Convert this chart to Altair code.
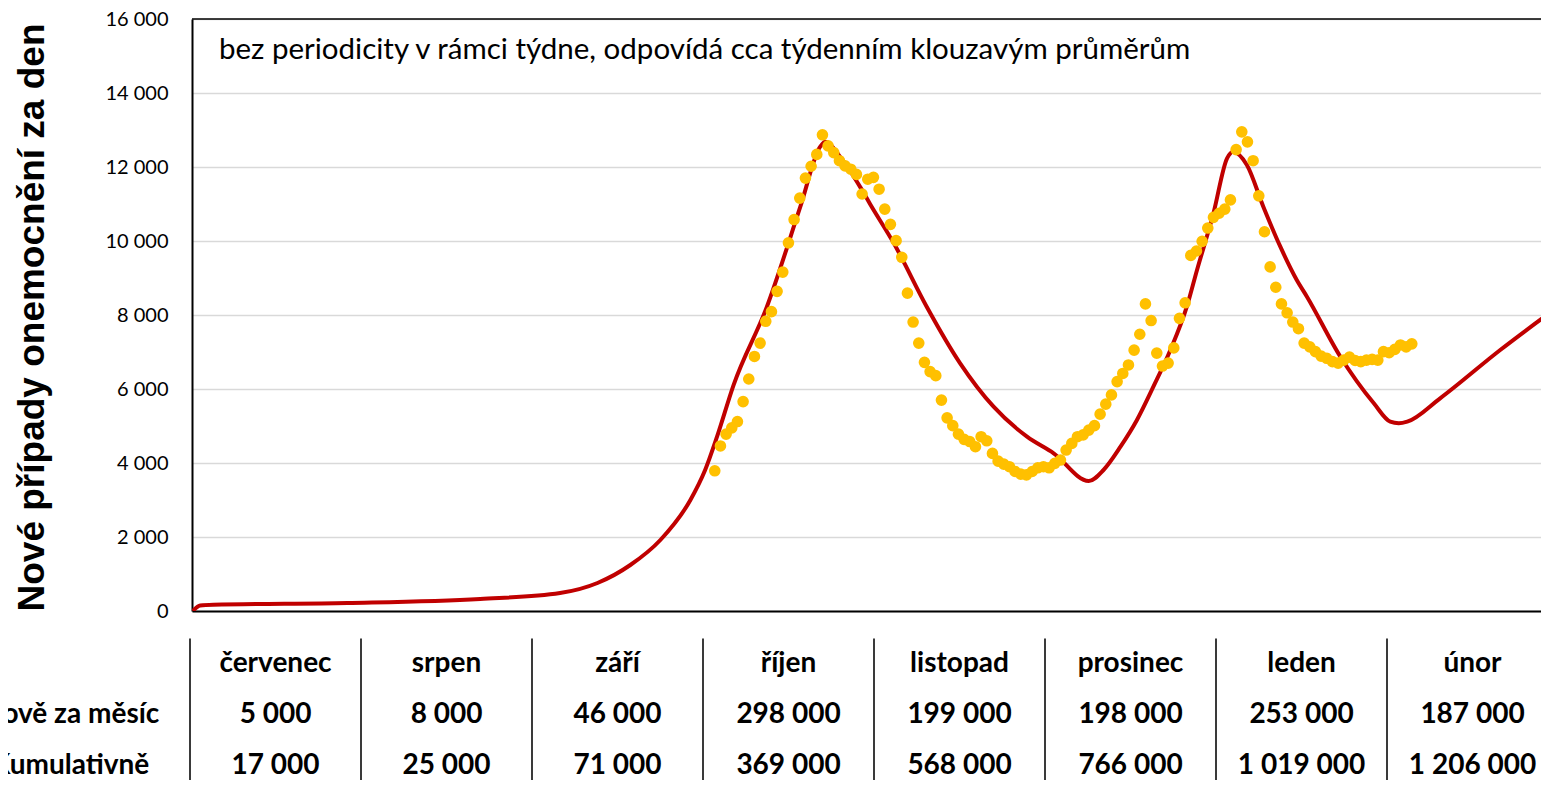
import altair as alt
import pandas as pd

# ---- data ----
# red model curve: day since 1 July, new cases per day
model_day = [-0.1, 1.2, 3.5, 27.2, 50.6, 64.7, 71.3, 77.1, 82.4, 87.7, 90.3, 92.4, 95.3,
             101.2, 107.1, 110.6, 111.5, 114.1, 117.7, 119.4, 123.6, 129.4, 135.3, 141.2,
             147.1, 151.8, 158.0, 160.6, 163.6, 166.5, 169.4, 172.4, 175.3, 177.1, 180.0,
             182.4, 183.5, 185.9, 188.8, 191.8, 194.7, 196.5, 202.4, 208.3, 211.2, 212.7,
             214.2, 220.0, 230.6, 239.3]
model_val = [0, 150, 170, 216, 324, 486, 757, 1243, 1919, 3000, 3811, 4711, 6100,
             8225, 10928, 12549, 12685, 12278, 11450, 11000, 9938, 8225, 6695, 5522,
             4711, 4262, 3514, 3811, 4441, 5162, 6062, 7054, 8225, 9216, 10749,
             12235, 12414, 12054, 10928, 9846, 8946, 8495, 6873, 5613, 5116, 5072,
             5116, 5748, 7054, 8054]

# yellow observed points, one per day starting 1 October (day 92)
obs_start_day = 92
obs_val = [3790, 4460, 4780, 4950, 5120, 5660, 6270, 6880, 7240, 7830, 8090, 8640, 9160, 9950,
           10580, 11160, 11700, 12020, 12340, 12870, 12570, 12390, 12170, 12030, 11940, 11800,
           11270, 11670,
           11720, 11400, 10860, 10450, 10010, 9560, 8590, 7810, 7240, 6720, 6470, 6360, 5700,
           5220, 5010, 4780, 4640, 4580, 4440, 4710, 4600, 4260, 4050, 3970, 3900, 3770, 3700,
           3680, 3770, 3870,
           3900, 3870, 3990, 4080, 4350, 4530, 4710, 4760, 4890, 5010, 5320, 5590, 5840, 6200,
           6420, 6650, 7050, 7480, 8300, 7850, 6970, 6620, 6700, 7110, 7910, 8330,
           9610, 9730, 9990, 10350, 10640, 10750, 10860, 11110, 12470, 12950, 12680, 12170,
           11220, 10250, 9300, 8750, 8300, 8060, 7810, 7630, 7240, 7140, 7010, 6890, 6830, 6740,
           6700, 6780, 6860, 6770, 6740, 6780, 6800, 6780, 7010, 6980, 7070, 7190, 7140, 7220]

months = ["červenec", "srpen", "září", "říjen", "listopad", "prosinec", "leden", "únor"]
new_per_month = [5000, 8000, 46000, 298000, 199000, 198000, 253000, 187000]
cumulative = [17000, 25000, 71000, 369000, 568000, 766000, 1019000, 1206000]
row_labels = ["Nově za měsíc", "Kumulativně"]
y_ticks = [0, 2000, 4000, 6000, 8000, 10000, 12000, 14000, 16000]
subtitle = "bez periodicity v rámci týdne, odpovídá cca týdenním klouzavým průměrům"
y_title = "Nové případy onemocnění za den"


def fmt(v):
    return f"{v:,}".replace(",", " ")


model_df = pd.DataFrame({"day": model_day, "val": model_val})
obs_df = pd.DataFrame({"day": [obs_start_day + i for i in range(len(obs_val))], "val": obs_val})
one_row = pd.DataFrame({"a": [0]})

table_rows = []
for i, m in enumerate(months):
    table_rows.append({"col": i + 0.5, "row": 0, "label": m})
    table_rows.append({"col": i + 0.5, "row": 1, "label": fmt(new_per_month[i])})
    table_rows.append({"col": i + 0.5, "row": 2, "label": fmt(cumulative[i])})
for r, lab in enumerate(row_labels):
    table_rows.append({"col": -0.70, "row": r + 1, "label": lab})
table_df = pd.DataFrame(table_rows)
sep_df = pd.DataFrame({"pos": list(range(len(months) + 1)), "y0": -0.5, "y1": 2.8})

# ---- scales & axes ----
xs = alt.Scale(domain=[-0.25, 237.8], nice=False, zero=False)
ys = alt.Scale(domain=[0, 16000], nice=False)
x_axis = alt.Axis(labels=False, ticks=False, title=None, grid=False,
                  domainColor="black", domainWidth=2)
y_axis = alt.Axis(values=y_ticks, labelExpr="replace(format(datum.value, ','), ',', ' ')",
                  labelFont="Lato", labelFontSize=20, labelColor="black", labelPadding=24,
                  ticks=False, tickSize=0, domainColor="black", domainWidth=2,
                  grid=True, gridColor="#D9D9D9", gridWidth=1.5,
                  title=y_title, titleFont="Liberation Sans", titleFontSize=37,
                  titleFontWeight="bold", titleColor="black", titleAngle=270,
                  titleX=-149, titleY=298, titleBaseline="alphabetic", titleAlign="center")

tx = alt.Scale(domain=[0, 8], range=[-2, 1366], nice=False, zero=False)
ty = alt.Scale(domain=[0, 2], range=[645, 747], nice=False, zero=False)

# ---- main plot ----
top_rule = alt.Chart(one_row).mark_rule(color="black", strokeWidth=1.5).encode(
    y=alt.YDatum(16000, scale=ys, axis=y_axis))
line = alt.Chart(model_df).mark_line(color="#C00000", strokeWidth=4,
                                     interpolate="monotone", clip=True).encode(
    x=alt.X("day:Q", scale=xs, axis=x_axis),
    y=alt.Y("val:Q", scale=ys, axis=y_axis))
dots = alt.Chart(obs_df).mark_circle(color="#FFC000", size=135, opacity=1).encode(
    x=alt.X("day:Q", scale=xs, axis=x_axis),
    y=alt.Y("val:Q", scale=ys, axis=y_axis))
note = alt.Chart(one_row).mark_text(align="left", baseline="middle", font="Lato",
                                    fontSize=29.5, color="black").encode(
    x=alt.XDatum(4.5, scale=xs, axis=x_axis),
    y=alt.YDatum(15160, scale=ys, axis=y_axis),
    text=alt.value(subtitle))
main = alt.layer(top_rule, line, dots, note)

# ---- table below ----
seps = alt.Chart(sep_df).mark_rule(color="#3a3a3a", strokeWidth=2).encode(
    x=alt.X("pos:Q", scale=tx, axis=None),
    y=alt.Y("y0:Q", scale=ty, axis=None),
    y2="y1:Q")
table_text = alt.Chart(table_df).mark_text(font="Lato", fontSize=28, fontWeight="bold",
                                           color="black", align="center",
                                           baseline="middle").encode(
    x=alt.X("col:Q", scale=tx, axis=None),
    y=alt.Y("row:Q", scale=ty, axis=None),
    text="label:N")
table = alt.layer(seps, table_text)

chart = alt.layer(main, table).resolve_scale(x="independent", y="independent").properties(
    width=1349, height=592,
    autosize=alt.AutoSizeParams(type="none"),
    padding={"left": 184, "top": 11, "right": 0, "bottom": 169},
).configure_view(stroke=None)

chart.save("out.html", embed_options={"renderer": "svg", "actions": False})
